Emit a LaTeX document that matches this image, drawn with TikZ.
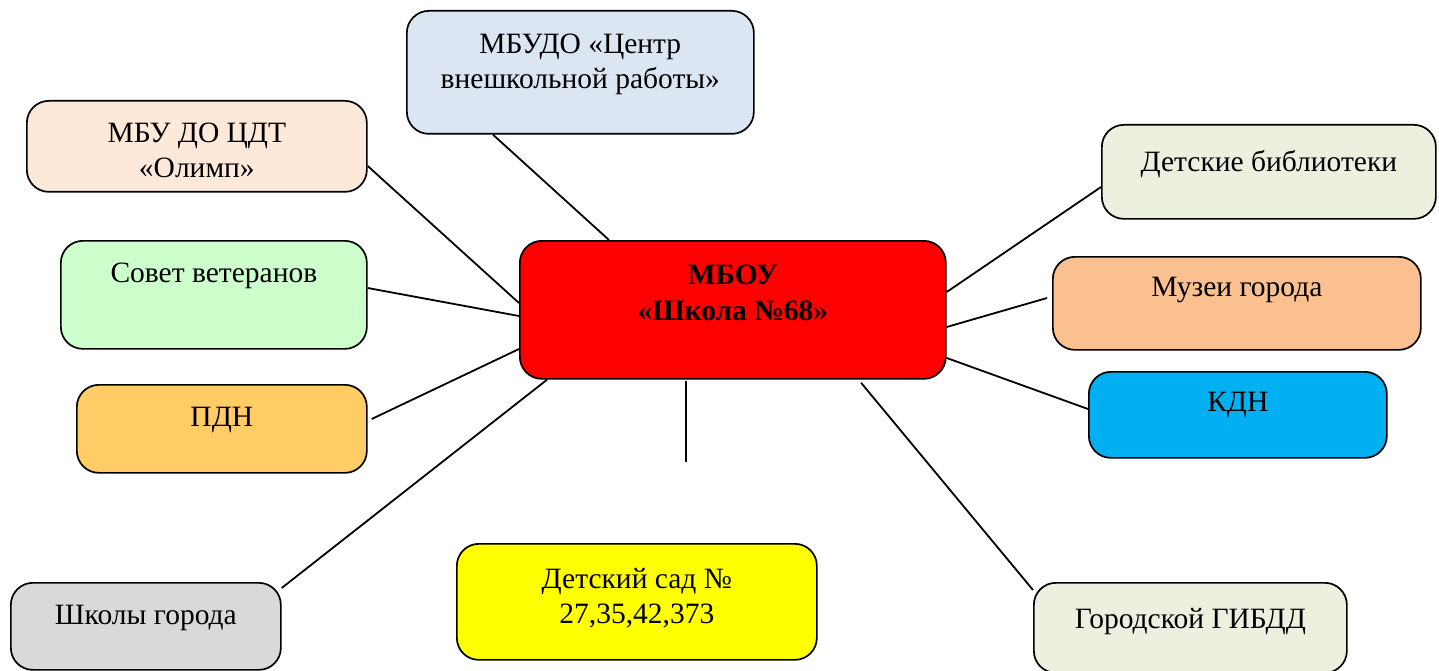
\documentclass[tikz,border=0pt]{standalone}
\usepackage{fontspec}
\setmainfont{Liberation Serif}
\usetikzlibrary{positioning}
\definecolor{boxblue}{HTML}{DCE6F2}
\definecolor{boxpeach}{HTML}{FDE9D9}
\definecolor{boxmint}{HTML}{CCFFCC}
\definecolor{boxgold}{HTML}{FFCC66}
\definecolor{boxgrey}{HTML}{D9D9D9}
\definecolor{boxyellow}{HTML}{FFFF00}
\definecolor{boxsage}{HTML}{EBF1DE}
\definecolor{boxcyan}{HTML}{00B0F0}
\definecolor{boxtan}{HTML}{FAC090}
\definecolor{boxred}{HTML}{FF0000}
\begin{document}
\begin{tikzpicture}[x=1pt,y=-1pt,
  box/.style={draw, line width=1.7pt, rounded corners=22pt, anchor=north west, inner sep=0pt},
  lbl/.style={anchor=north, align=center, inner sep=0pt, font=\fontsize{29.5}{35}\selectfont},
  link/.style={line width=1.8pt}]
\useasboundingbox (0,0) rectangle (1439,671);

% Boxes
\node[box, fill=boxblue, minimum width=347pt, minimum height=123pt] (centr) at (406,10) {};
\node[box, fill=boxpeach, minimum width=340pt, minimum height=91pt] (olimp) at (26,100) {};
\node[box, fill=boxmint, minimum width=306pt, minimum height=108pt] (sovet) at (60,240) {};
\node[box, fill=boxgold, minimum width=290pt, minimum height=88pt] (pdn) at (76,384) {};
\node[box, fill=boxgrey, minimum width=270pt, minimum height=87pt] (shkoly) at (10,582) {};
\node[box, fill=boxyellow, minimum width=360pt, minimum height=116pt] (sad) at (456,543) {};
\node[box, fill=boxsage, minimum width=313pt, minimum height=90pt] (gibdd) at (1033,582) {};
\node[box, fill=boxcyan, minimum width=298pt, minimum height=86pt] (kdn) at (1088,371) {};
\node[box, fill=boxtan, minimum width=368pt, minimum height=93pt] (muzei) at (1052,256) {};
\node[box, fill=boxsage, minimum width=334pt, minimum height=94pt] (bibl) at (1101,124) {};
\node[box, fill=boxred, minimum width=426pt, minimum height=138pt] (mboy) at (519,240) {};

% Labels
\node[lbl, below=24pt of centr.north] (centrT) {МБУДО «Центр\\внешкольной работы»};
\node[lbl, below=23pt of olimp.north] (olimpT) {МБУ ДО ЦДТ\\«Олимп»};
\node[lbl, below=23pt of sovet.north] (sovetT) {Совет ветеранов};
\node[lbl, below=23pt of pdn.north] (pdnT) {ПДН};
\node[lbl, below=23pt of shkoly.north] (shkolyT) {Школы города};
\node[lbl, below=25pt of sad.north] (sadT) {Детский сад №\\27,35,42,373};
\node[lbl, below=26pt of gibdd.north] (gibddT) {Городской ГИБДД};
\node[lbl, below=21pt of kdn.north] (kdnT) {КДН};
\node[lbl, below=21pt of muzei.north] (muzeiT) {Музеи города};
\node[lbl, below=26pt of bibl.north] (biblT) {Детские библиотеки};
\node[lbl, below=25pt of mboy.north, font=\fontsize{29.5}{36}\selectfont\bfseries] (mboyT) {МБОУ\\«Школа №68»};

% Connectors
\draw[link] ([xshift=87pt]centr.south west) -- ([xshift=90pt]mboy.north west);
\draw[link] ([yshift=-66pt]olimp.north east) -- ([yshift=-63pt]mboy.north west);
\draw[link] ([yshift=-48pt]sovet.north east) -- ([yshift=-76pt]mboy.north west);
\draw[link] ([xshift=4pt,yshift=-35pt]pdn.north east) -- ([yshift=-109pt]mboy.north west);
\draw[link] ([yshift=-6pt]shkoly.north east) -- ([xshift=28pt]mboy.south west);
\coordinate (sadTop) at (686,462);
\coordinate (mboyLow) at (686,381);
\draw[link] (mboyLow) -- (sadTop);
\draw[link] ([xshift=342pt,yshift=-3pt]mboy.south west) -- ([yshift=-8pt]gibdd.north west);
\draw[link] ([yshift=-118pt]mboy.north east) -- ([yshift=-38pt]kdn.north west);
\draw[link] ([yshift=-87pt]mboy.north east) -- ([xshift=-5pt,yshift=-42pt]muzei.north west);
\draw[link] ([yshift=-52pt]mboy.north east) -- ([yshift=-63pt]bibl.north west);
\end{tikzpicture}
\end{document}
